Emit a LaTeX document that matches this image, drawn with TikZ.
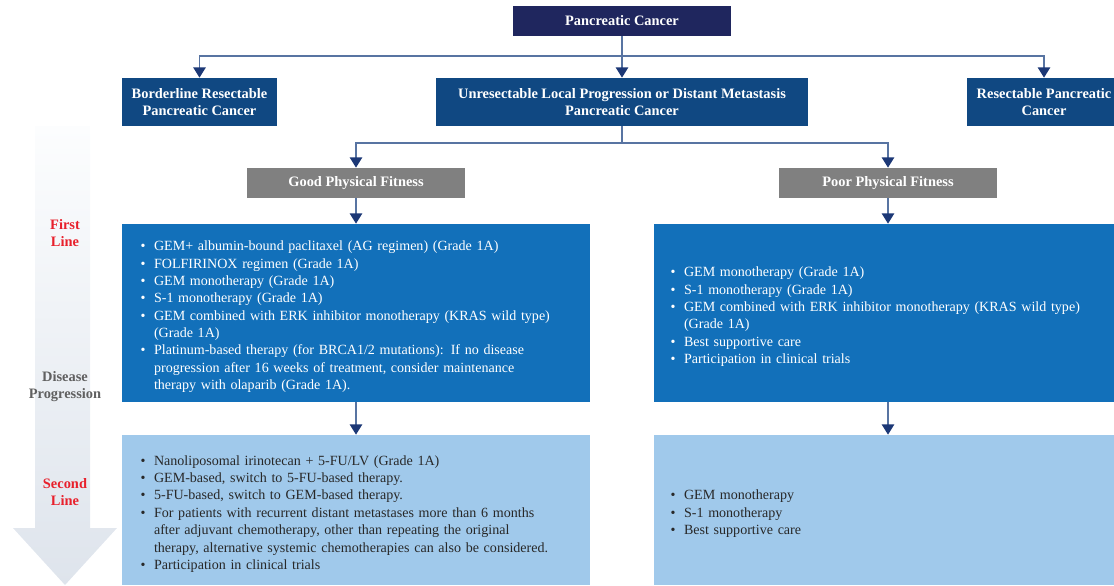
\documentclass[tikz,border=0pt]{standalone}
\usepackage{fontspec}
\setmainfont{Liberation Serif}
\usepackage{enumitem}
\usetikzlibrary{arrows.meta, positioning, calc}

\definecolor{topnavy}{RGB}{31,38,94}
\definecolor{stageblue}{RGB}{16,72,130}
\definecolor{fitgrey}{RGB}{128,128,128}
\definecolor{firstblue}{RGB}{18,112,186}
\definecolor{secondblue}{RGB}{160,201,235}
\definecolor{linkblue}{RGB}{88,116,162}
\definecolor{tipnavy}{RGB}{28,56,118}
\definecolor{linered}{RGB}{232,32,44}
\definecolor{progrey}{RGB}{96,96,96}
\definecolor{sltext}{RGB}{40,40,40}
\definecolor{arrowtop}{RGB}{252,253,254}
\definecolor{arrowbottom}{RGB}{222,228,236}

\newcommand{\txtsize}{\fontsize{8}{9.9}\selectfont}
\newcommand{\headsize}{\fontsize{8.2}{9.67}\selectfont}

\setlist[itemize]{label=\textbullet, nosep, leftmargin=0.27cm, labelwidth=0.12cm, labelsep=0.15cm, align=left}

\tikzset{
  headbox/.style={fill=stageblue, text=white, font=\headsize\bfseries, align=center, inner sep=0pt, minimum height=0.96cm},
  fitbox/.style={fill=fitgrey, text=white, font=\headsize\bfseries, inner sep=0pt, minimum width=4.36cm, minimum height=0.6cm},
  leftlist/.style={text width=8.62cm, inner xsep=0.38cm, inner ysep=0pt, align=left, font=\txtsize},
  rightlist/.style={text width=8.7cm, inner xsep=0.33cm, inner ysep=0pt, align=left, font=\txtsize},
  link/.style={draw=linkblue, line width=0.8pt, -{Triangle[width=7pt,length=5.8pt,color=tipnavy]}},
  plainlink/.style={draw=linkblue, line width=0.8pt},
  linelabel/.style={font=\headsize\bfseries, align=center}
}

\begin{document}
\begin{tikzpicture}[x=0.02cm, y=-0.02cm]
  \useasboundingbox (0,0) rectangle (1114,585);

  % Treatment line arrow on the left
  \shade[top color=arrowtop, bottom color=arrowbottom]
    (35,126) -- (90,126) -- (90,528) -- (117,528) -- (65,585) -- (13,528) -- (35,528) -- cycle;
  \node[linelabel, text=linered] (first) at (65,233) {First\\Line};
  \node[linelabel, text=progrey] (prog) at (65,387) {Disease\\Progression};
  \node[linelabel, text=linered] (second) at (65,492) {Second\\Line};

  % Diagnosis
  \node[fill=topnavy, text=white, font=\headsize\bfseries, minimum width=4.36cm, minimum height=0.6cm, inner sep=0pt] (pc) at (622,21) {Pancreatic Cancer};
  \node[headbox, minimum width=3.1cm] (brpc) at (199.5,102) {Borderline Resectable\\Pancreatic Cancer};
  \node[headbox, minimum width=7.44cm] (upc) at (622,102) {Unresectable Local Progression or Distant Metastasis\\Pancreatic Cancer};
  \node[headbox, minimum width=3.08cm] (rpc) at (1044,102) {Resectable Pancreatic\\Cancer};

  % Physical fitness
  \node[fitbox] (gpf) at (356,183) {Good Physical Fitness};
  \node[fitbox] (ppf) at (888,183) {Poor Physical Fitness};

  % First line
  \node[leftlist, fill=firstblue, text=white, minimum height=3.56cm] (fl1) at (356,313) {
    \begin{itemize}
      \item GEM+ albumin-bound paclitaxel (AG regimen) (Grade 1A)
      \item FOLFIRINOX regimen (Grade 1A)
      \item GEM monotherapy (Grade 1A)
      \item S-1 monotherapy (Grade 1A)
      \item GEM combined with ERK inhibitor monotherapy (KRAS wild type)\newline (Grade 1A)
      \item Platinum-based therapy (for BRCA1/2 mutations): If no disease\newline progression after 16 weeks of treatment, consider maintenance\newline therapy with olaparib (Grade 1A).
    \end{itemize}};
  \node[rightlist, fill=firstblue, text=white, minimum height=3.56cm] (fl2) at (888,313) {
    \begin{itemize}
      \item GEM monotherapy (Grade 1A)
      \item S-1 monotherapy (Grade 1A)
      \item GEM combined with ERK inhibitor monotherapy (KRAS wild type)\newline (Grade 1A)
      \item Best supportive care
      \item Participation in clinical trials
    \end{itemize}};

  % Second line
  \node[leftlist, fill=secondblue, text=sltext, minimum height=3cm] (sl1) at (356,510) {
    \begin{itemize}
      \item Nanoliposomal irinotecan + 5-FU/LV (Grade 1A)
      \item GEM-based, switch to 5-FU-based therapy.
      \item 5-FU-based, switch to GEM-based therapy.
      \item For patients with recurrent distant metastases more than 6 months\newline after adjuvant chemotherapy, other than repeating the original\newline therapy, alternative systemic chemotherapies can also be considered.
      \item Participation in clinical trials
    \end{itemize}};
  \node[rightlist, fill=secondblue, text=sltext, minimum height=3cm] (sl2) at (888,510) {
    \begin{itemize}
      \item GEM monotherapy
      \item S-1 monotherapy
      \item Best supportive care
    \end{itemize}};

  % Connectors
  \coordinate (split1) at (622,56);
  \coordinate (split2) at (622,143);
  \draw[link] (pc) -- (upc);
  \draw[link] (split1) -| (brpc);
  \draw[link] (split1) -| (rpc);
  \draw[plainlink] (upc) -- (split2);
  \draw[link] (split2) -| (gpf);
  \draw[link] (split2) -| (ppf);
  \draw[link] (gpf) -- (fl1);
  \draw[link] (ppf) -- (fl2);
  \draw[link] (fl1) -- (sl1);
  \draw[link] (fl2) -- (sl2);
\end{tikzpicture}
\end{document}
